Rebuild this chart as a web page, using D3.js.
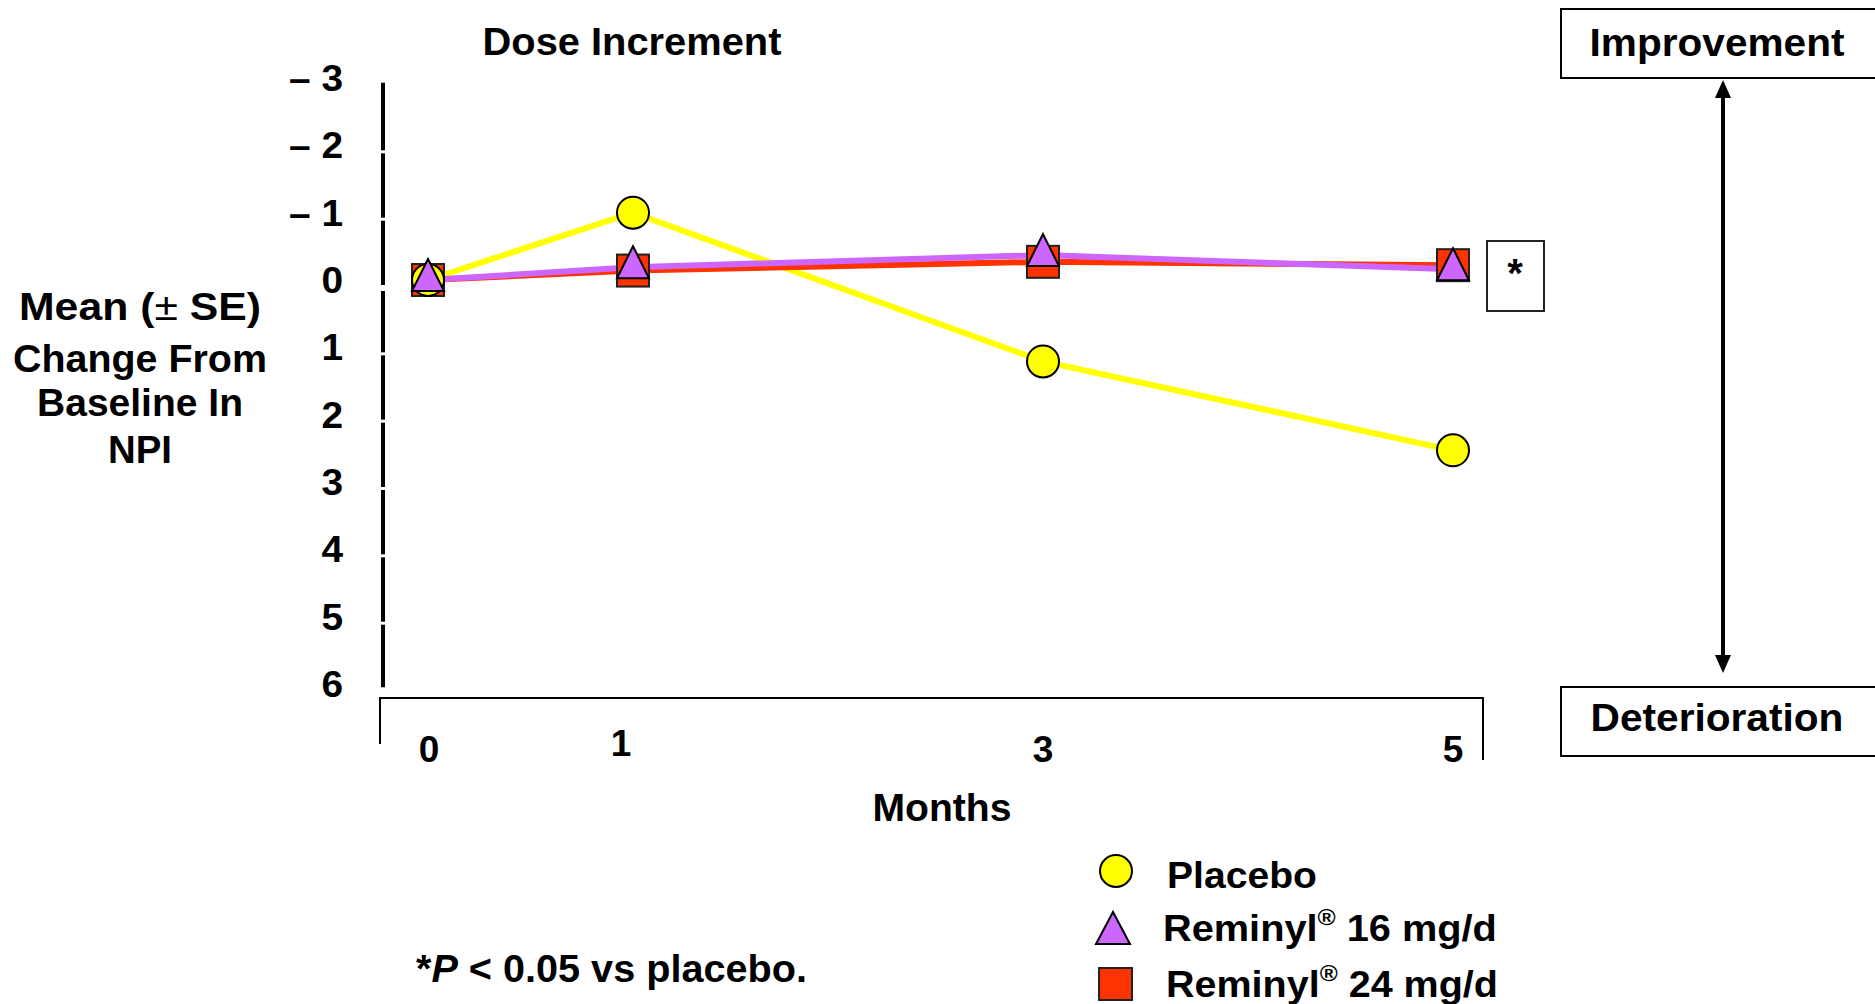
<!DOCTYPE html>
<html>
<head>
<meta charset="utf-8">
<script src="https://cdn.jsdelivr.net/npm/d3@7"></script>
<style>
  html, body { margin: 0; padding: 0; background: #fff; }
  svg { display: block; }
  text { font-family: "Liberation Sans", Arial, sans-serif; font-weight: bold; fill: #000; }
</style>
</head>
<body>
<svg id="chart" width="1875" height="1004"></svg>
<script>
// ---------------- data ----------------
const months = [0, 1, 3, 5];
const placebo = [0, -1.0, 1.21, 2.53];
const reminyl16 = [0, -0.19, -0.37, -0.16];
const reminyl24 = [0, -0.14, -0.27, -0.22];
const yTickValues = [-3, -2, -1, 0, 1, 2, 3, 4, 5, 6];
const yTickLabels = ["\u2013 3", "\u2013 2", "\u2013 1", "0", "1", "2", "3", "4", "5", "6"];
const xTickLabels = ["0", "1", "3", "5"];
const seriesNames = ["Placebo", "Reminyl\u00AE 16 mg/d", "Reminyl\u00AE 24 mg/d"];

// ---------------- setup ----------------
const svg = d3.select("#chart");
const x = d3.scaleLinear().domain([0, 5]).range([428, 1453]);
const y = d3.scaleLinear().domain([-3, 6]).range([78, 684]);

const COL_YELLOW = "#FFFF00", COL_PURPLE = "#CC66FF", COL_RED = "#FF3300";

// text helper: draws text and stretches it horizontally to a target width
function txt(px, py, anchor, size, width, parts, kDefault) {
  const t = svg.append("text")
    .attr("text-anchor", anchor)
    .style("font-size", size + "px");
  parts.forEach(p => {
    if (typeof p === "string") p = { t: p };
    const ts = t.append("tspan").text(p.t);
    if (p.italic) ts.style("font-style", "italic");
    if (p.normal) ts.style("font-weight", "normal");
    if (p.sup) ts.attr("dy", (-0.42 * size) + "px").style("font-size", (size * 0.62) + "px");
    if (p.unsup) ts.attr("dy", (0.42 * size) + "px");
  });
  let k = kDefault || 1.0;
  if (width) {
    const w = t.node().getComputedTextLength();
    if (w > 0) k = width / w;
  }
  t.attr("transform", `translate(${px},${py}) scale(${k},1)`);
  return t;
}

// ---------------- y axis ----------------
const yAxisTop = y(-2.93), yAxisBottom = y(6.05);
svg.append("line")
  .attr("x1", 383).attr("x2", 383)
  .attr("y1", yAxisTop).attr("y2", yAxisBottom)
  .attr("stroke", "#000").attr("stroke-width", 4);
// white tick gaps
svg.selectAll(".gap").data(yTickValues.slice(1, -1)).enter().append("rect")
  .attr("class", "gap")
  .attr("x", 378).attr("width", 10)
  .attr("y", d => y(d) + 5).attr("height", d => d === 0 ? 6 : 3)
  .attr("fill", "#fff");

yTickValues.forEach((v, i) => {
  txt(343, y(v) + 13, "end", 37, null, [yTickLabels[i]], 1.05);
});

// y title
txt(140, 320, "middle", 38, 242, ["Mean (", { t: "\u00B1", normal: true }, " SE)"]);
txt(140, 372, "middle", 38, 254, ["Change From"]);
txt(140, 416, "middle", 38, 206, ["Baseline In"]);
txt(140, 463, "middle", 38, 64, ["NPI"]);

// Dose increment label
txt(632, 55, "middle", 38, 299, ["Dose Increment"]);

// ---------------- x axis ----------------
svg.append("path")
  .attr("d", `M380,744 V698 H1483 V760`)
  .attr("fill", "none").attr("stroke", "#000").attr("stroke-width", 2);
months.forEach((m, i) => {
  txt(x(m) + (i === 0 ? 1 : i === 1 ? -12 : 0), i === 1 ? 756 : 762, "middle", 37, null, [xTickLabels[i]], 1.0);
});
txt(942, 821, "middle", 38, 139, ["Months"]);

// ---------------- lines ----------------
const line = d3.line().x((d, i) => x(months[i])).y(d => y(d));
svg.append("path").datum(placebo).attr("d", line)
  .attr("fill", "none").attr("stroke", COL_YELLOW).attr("stroke-width", 6);
svg.append("path").datum(reminyl24).attr("d", line)
  .attr("fill", "none").attr("stroke", COL_RED).attr("stroke-width", 6);
svg.append("path").datum(reminyl16).attr("d", line)
  .attr("fill", "none").attr("stroke", COL_PURPLE).attr("stroke-width", 6);

// ---------------- markers ----------------
const triPath = "M0,-21 L16,11 L-16,11 Z";
svg.selectAll(".sq").data(reminyl24).enter().append("rect")
  .attr("x", (d, i) => x(months[i]) - 16).attr("y", d => y(d) - 16)
  .attr("width", 32).attr("height", 32)
  .attr("fill", COL_RED).attr("stroke", "#222").attr("stroke-width", 2);
svg.selectAll(".ci").data(placebo).enter().append("circle")
  .attr("cx", (d, i) => x(months[i])).attr("cy", d => y(d)).attr("r", 16)
  .attr("fill", COL_YELLOW).attr("stroke", "#000").attr("stroke-width", 2);
svg.selectAll(".tr").data(reminyl16).enter().append("path")
  .attr("d", triPath)
  .attr("transform", (d, i) => `translate(${x(months[i])},${y(d)})`)
  .attr("fill", COL_PURPLE).attr("stroke", "#000").attr("stroke-width", 2)
  .attr("stroke-linejoin", "miter");

// significance box
svg.append("rect").attr("x", 1487).attr("y", 241).attr("width", 57).attr("height", 70)
  .attr("fill", "#fff").attr("stroke", "#222").attr("stroke-width", 2);
txt(1515, 287, "middle", 40, null, ["*"], 1.0);

// ---------------- improvement / deterioration ----------------
svg.append("rect").attr("x", 1561).attr("y", 9).attr("width", 330).attr("height", 69)
  .attr("fill", "#fff").attr("stroke", "#000").attr("stroke-width", 2);
txt(1717, 56, "middle", 38, 255, ["Improvement"]);
svg.append("rect").attr("x", 1561).attr("y", 687).attr("width", 330).attr("height", 69)
  .attr("fill", "#fff").attr("stroke", "#000").attr("stroke-width", 2);
txt(1717, 731, "middle", 38, 253, ["Deterioration"]);

svg.append("line").attr("x1", 1723).attr("x2", 1723).attr("y1", 95).attr("y2", 658)
  .attr("stroke", "#000").attr("stroke-width", 4);
svg.append("path").attr("d", "M1723,80 L1731,98 L1715,98 Z").attr("fill", "#000");
svg.append("path").attr("d", "M1723,673 L1731,655 L1715,655 Z").attr("fill", "#000");

// ---------------- legend ----------------
svg.append("circle").attr("cx", 1116).attr("cy", 871).attr("r", 16)
  .attr("fill", COL_YELLOW).attr("stroke", "#000").attr("stroke-width", 2);
txt(1167, 888, "start", 37, 150, [seriesNames[0]]);
svg.append("path").attr("d", "M1113,912 L1130,944 L1096,944 Z")
  .attr("fill", COL_PURPLE).attr("stroke", "#000").attr("stroke-width", 2);
txt(1163, 941, "start", 37, 334, ["Reminyl", { t: "\u00AE", sup: true }, { t: " 16 mg/d", unsup: true }]);
svg.append("rect").attr("x", 1099).attr("y", 968).attr("width", 33).attr("height", 32)
  .attr("fill", COL_RED).attr("stroke", "#222").attr("stroke-width", 2);
txt(1166, 997, "start", 37, 332, ["Reminyl", { t: "\u00AE", sup: true }, { t: " 24 mg/d", unsup: true }]);

// footnote
txt(416, 982, "start", 38, 391, ["*", { t: "P", italic: true }, " < 0.05 vs placebo."]);
</script>
</body>
</html>
